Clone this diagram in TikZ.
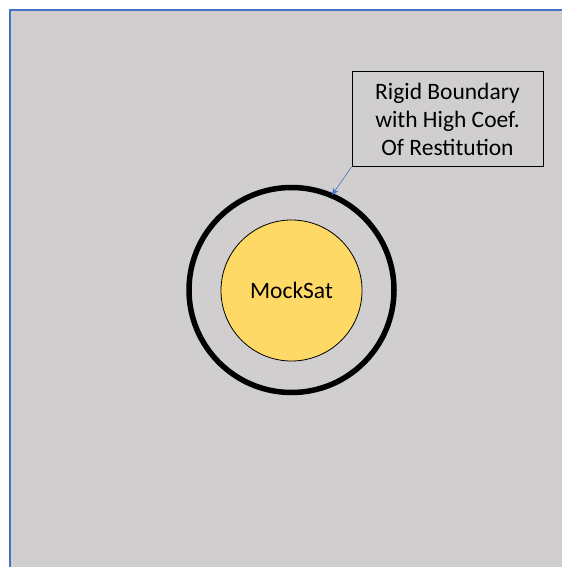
\documentclass[tikz,border=0pt]{standalone}
\usepackage{fontspec}
\setmainfont{Carlito}
\usetikzlibrary{arrows.meta}
\definecolor{bg}{HTML}{D0CECE}
\definecolor{sat}{HTML}{FFD966}
\definecolor{edgeblue}{HTML}{4472C4}
\tikzset{
  labelbox/.style={draw=black, line width=1pt, fill=bg, minimum width=191pt, minimum height=95pt, align=center, font=\fontsize{23.5}{28}\selectfont, inner sep=0pt},
  ring/.style={circle, draw=black, line width=5.5pt, minimum size=205pt, inner sep=0pt},
  satnode/.style={circle, draw=black, line width=0.8pt, fill=sat, minimum size=141pt, inner sep=0pt, font=\fontsize{23.5}{28}\selectfont},
  callout/.style={draw=edgeblue, line width=0.6pt, -{Stealth[length=7pt,width=6pt]}}
}
\begin{document}
\begin{tikzpicture}[x=1pt,y=-1pt]
\useasboundingbox (0,0) rectangle (563,567);
\fill[white] (0,0) rectangle (563,567);
\fill[bg] (10,10) rectangle (562,567);
\draw[edgeblue, line width=1.2pt] (10,567) -- (10,10) -- (562,10);
\node[ring] (ring) at (291.5,290) {};
\node[satnode] (sat) at (291.5,290.5) {MockSat};
\node[labelbox] (lbl) at (447.5,119) {Rigid Boundary\\with High Coef.\\Of Restitution};
\coordinate (tip) at (332,195);
\draw[callout] (lbl.south west) -- (tip);
\end{tikzpicture}
\end{document}
